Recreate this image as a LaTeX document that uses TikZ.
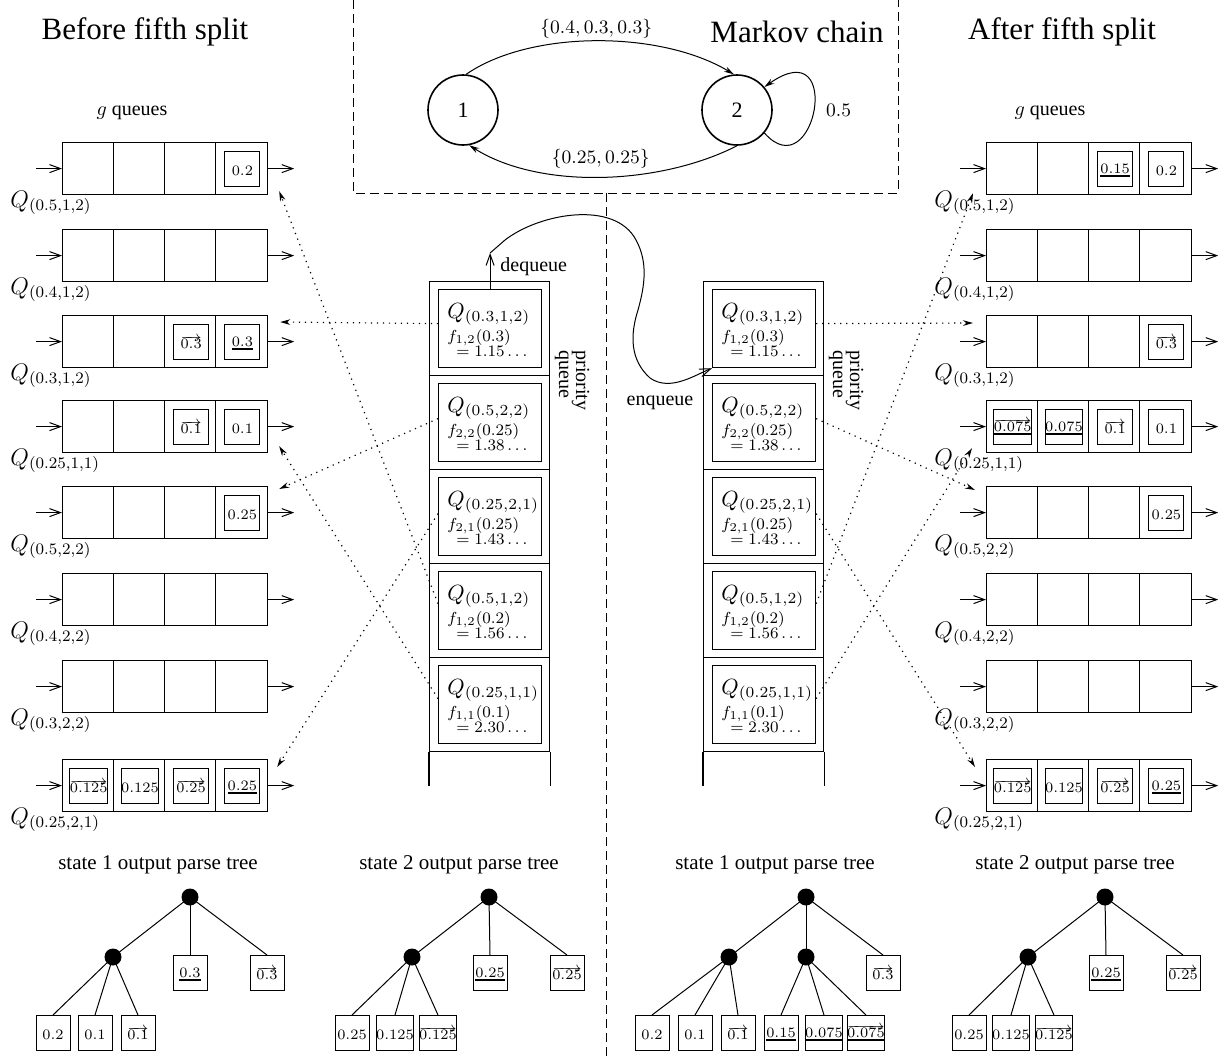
\RequirePackage{fix-cm}
\documentclass[tikz,border=0pt]{standalone}
\usepackage[no-math]{fontspec}
\setmainfont{Liberation Serif}
\usetikzlibrary{arrows.meta,calc}
\newcommand\thul[1]{\vtop{\hbox{$#1$}\kern0.6pt\hrule height 1.3pt}}
\newcommand\varr[1]{\overrightarrow{#1}}
\tikzset{
  qbox/.style={draw, line width=0.6pt, minimum width=102.5pt, minimum height=26pt, inner sep=0pt, anchor=north west},
  ibox/.style={draw, line width=0.5pt, minimum width=17.5pt, minimum height=17.5pt, inner sep=0pt, font=\fontsize{7.2}{9}\selectfont},
  leaf/.style={draw, line width=0.5pt, minimum width=17pt, minimum height=17.5pt, inner sep=0pt, font=\fontsize{7.2}{9}\selectfont},
  tdot/.style={circle, fill, minimum size=8.5pt, inner sep=0pt},
  pcell/.style={draw, line width=0.6pt, minimum width=60pt, minimum height=47pt, inner sep=0pt, anchor=north west},
  pbox/.style={draw, line width=0.6pt, minimum width=51.5pt, minimum height=39pt, inner sep=0pt, anchor=north west},
  pq/.style={inner sep=0pt, font=\fontsize{11}{13}\selectfont},
  pf/.style={inner sep=0pt, font=\fontsize{8}{10}\selectfont},
  qlab/.style={inner sep=0pt, font=\fontsize{12}{14}\selectfont},
  barb/.style={-{Straight Barb[length=5.5pt,width=4pt]}, line width=0.5pt},
  dotarr/.style={dash pattern=on 0.6pt off 2.4pt, line width=0.6pt, -{Stealth[length=5pt,width=2.8pt]}},
  mstate/.style={circle, draw, line width=0.8pt, minimum size=35pt, inner sep=0pt, font=\fontsize{11}{13}\selectfont},
  marr/.style={line width=0.5pt, -{Stealth[length=5pt,width=2.8pt]}},
  mlab/.style={inner sep=0pt, font=\fontsize{9.5}{11}\selectfont},
  mkdash/.style={dash pattern=on 4.5pt off 2.5pt, line width=0.5pt},
  ttl/.style={inner sep=0pt, font=\fontsize{15.5}{18}\selectfont},
  ttitle/.style={inner sep=0pt, font=\fontsize{10.5}{12}\selectfont},
  lbl/.style={inner sep=0pt, font=\fontsize{10}{12}\selectfont},
  edge/.style={line width=0.5pt}
}
\newcommand\qrow[4]{%
  \node[qbox] (#1) at (#2,#3) {};
  \foreach \k in {1,2,3}{\draw[line width=0.6pt] ($(#1.north west)+(\k*51.25,0)$) -- ($(#1.south west)+(\k*51.25,0)$);}
  \coordinate (#1i) at ($(#1.west)+(-26,0)$);
  \coordinate (#1o) at ($(#1.east)+(26,0)$);
  \draw[barb] (#1i) -- (#1.west);
  \draw[barb] (#1.east) -- (#1o);
  \node[qlab, anchor=base west] (#1lab) at ($(#1.south west)+(-52,12)$) {$Q_{(#4)}$};
}
\newcommand\qitem[3]{%
  \node[ibox] (#1c#2) at ($(#1.north west)+(#2*51.25-24.6,27)$) {$\vphantom{\varr{0}}#3$};
}
\newcommand\pqcell[7]{%
  \node[pcell] (#1o) at (#2,#3) {};
  \node[pbox] (#1) at ($(#1o.north west)+(9,8)$) {};
  \node[pq, anchor=base west] (#1q) at ($(#1.north west)+(9,29)$) {$Q_{(#4)}$};
  \node[pf, anchor=base west] (#1f) at ($(#1.north west)+(9,52)$) {$f_{#5}(#6)$};
  \node[pf, anchor=base west] (#1v) at ($(#1.north west)+(18,67)$) {$=#7\ldots$};
}
\begin{document}
\begin{tikzpicture}[x=0.5pt,y=-0.5pt]
\useasboundingbox[fill=white] (0,0) rectangle (1228,1057);

% titles
\node[ttl] (tb) at (145,32) {Before fifth split};
\node[ttl] (tm) at (797,32) {Markov chain};
\node[ttl] (ta) at (1062,32) {After fifth split};

% dashed frame
\draw[mkdash] (353,0) -- (353,193) -- (898,193) -- (898,0);
\draw[mkdash] (606,193) -- (606,1057);

% Markov chain
\node[mstate] (m1) at (463,110) {1};
\node[mstate] (m2) at (737,110) {2};
\draw[marr] (m1.85) .. controls (530,30) and (660,30) .. node[mlab, midway, above=1pt] (ml1) {$\{0.4,0.3,0.3\}$} (m2.95);
\draw[marr] (m2.-90) .. controls (660,185) and (540,190) .. node[mlab, midway, above=4pt] (ml2) {$\{0.25,0.25\}$} (m1.-80);
\draw[marr] (m2.-40) .. controls (815,190) and (845,30) .. node[mlab, midway, right=6pt] (ml3) {$0.5$} (m2.40);

% g queues labels
\node[lbl] (gl) at (132,113) {$g$ queues};
\node[lbl] (gr) at (1050,113) {$g$ queues};

% left queues
\qrow{L1}{62}{142}{0.5,1,2}
\qrow{L2}{62}{229}{0.4,1,2}
\qrow{L3}{62}{315}{0.3,1,2}
\qrow{L4}{62}{400}{0.25,1,1}
\qrow{L5}{62}{486}{0.5,2,2}
\qrow{L6}{62}{573}{0.4,2,2}
\qrow{L7}{62}{660}{0.3,2,2}
\qrow{L8}{62}{759}{0.25,2,1}
\qitem{L1}{4}{0.2}
\qitem{L3}{3}{\varr{0.3}}
\qitem{L3}{4}{\thul{0.3}}
\qitem{L4}{3}{\varr{0.1}}
\qitem{L4}{4}{0.1}
\qitem{L5}{4}{0.25}
\qitem{L8}{1}{\varr{0.125}}
\qitem{L8}{2}{0.125}
\qitem{L8}{3}{\varr{0.25}}
\qitem{L8}{4}{\thul{0.25}}

% right queues
\qrow{R1}{986}{142}{0.5,1,2}
\qrow{R2}{986}{229}{0.4,1,2}
\qrow{R3}{986}{315}{0.3,1,2}
\qrow{R4}{986}{400}{0.25,1,1}
\qrow{R5}{986}{486}{0.5,2,2}
\qrow{R6}{986}{573}{0.4,2,2}
\qrow{R7}{986}{660}{0.3,2,2}
\qrow{R8}{986}{759}{0.25,2,1}
\qitem{R1}{3}{\thul{0.15}}
\qitem{R1}{4}{0.2}
\qitem{R3}{4}{\varr{0.3}}
\qitem{R4}{1}{\thul{\varr{0.075}}}
\qitem{R4}{2}{\thul{0.075}}
\qitem{R4}{3}{\varr{0.1}}
\qitem{R4}{4}{0.1}
\qitem{R5}{4}{0.25}
\qitem{R8}{1}{\varr{0.125}}
\qitem{R8}{2}{0.125}
\qitem{R8}{3}{\varr{0.25}}
\qitem{R8}{4}{\thul{0.25}}

% left priority queue
\pqcell{PL1}{429}{281}{0.3,1,2}{1,2}{0.3}{1.15}
\pqcell{PL2}{429}{375}{0.5,2,2}{2,2}{0.25}{1.38}
\pqcell{PL3}{429}{469}{0.25,2,1}{2,1}{0.25}{1.43}
\pqcell{PL4}{429}{563}{0.5,1,2}{1,2}{0.2}{1.56}
\pqcell{PL5}{429}{657}{0.25,1,1}{1,1}{0.1}{2.30}
\draw[line width=0.6pt] (PL5o.south west) -- ++(0,34);
\draw[line width=0.6pt] (PL5o.south east) -- ++(0,34);

% right priority queue
\pqcell{PR1}{703}{281}{0.3,1,2}{1,2}{0.3}{1.15}
\pqcell{PR2}{703}{375}{0.5,2,2}{2,2}{0.25}{1.38}
\pqcell{PR3}{703}{469}{0.25,2,1}{2,1}{0.25}{1.43}
\pqcell{PR4}{703}{563}{0.5,1,2}{1,2}{0.2}{1.56}
\pqcell{PR5}{703}{657}{0.25,1,1}{1,1}{0.1}{2.30}
\draw[line width=0.6pt] (PR5o.south west) -- ++(0,34);
\draw[line width=0.6pt] (PR5o.south east) -- ++(0,34);

% priority queue labels
\node[lbl, rotate=-90, anchor=base west] (plp) at (576,350) {priority};
\node[lbl, rotate=-90, anchor=base west] (plq) at (559,350) {queue};
\node[lbl, rotate=-90, anchor=base west] (prp) at (850,350) {priority};
\node[lbl, rotate=-90, anchor=base west] (prq) at (833,350) {queue};

% dequeue / enqueue
\coordinate (deq) at (PL1.north |- 0,253);
\draw[barb] (PL1.north) -- (deq);
\node[lbl, anchor=west] (deql) at (500,267) {dequeue};
\draw[barb] (deq) -- (505,240) .. controls (540,213) and (615,200) .. (636,240)
  .. controls (648,262) and (645,285) .. (638,310)
  .. controls (630,335) and (630,360) .. (650,378)
  .. controls (670,392) and (695,375) .. (PR1.south west);
\node[lbl] (enql) at (660,403) {enqueue};

% dotted arrows left
\draw[dotarr] ($(PL1.west)+(0,-5)$) -- ($(L3.north east)+(12,7)$);
\draw[dotarr] ($(PL2.west)+(0,-4)$) -- ($(L5.north east)+(11,3)$);
\draw[dotarr] ($(PL3.west)+(0,-3)$) -- ($(L8.north east)+(9,8)$);
\draw[dotarr] ($(PL4.west)+(0,-7)$) -- ($(L1.south east)+(11,-4)$);
\draw[dotarr] ($(PL5.west)+(0,-6)$) -- ($(L4.south east)+(11,-7)$);

% dotted arrows right
\draw[dotarr] ($(PR1.east)+(0,-5)$) -- ($(R3.north west)+(-13,8)$);
\draw[dotarr] ($(PR2.east)+(0,-4)$) -- ($(R5.north west)+(-11,4)$);
\draw[dotarr] ($(PR3.east)+(0,-3)$) -- ($(R8.north west)+(-11,8)$);
\draw[dotarr] ($(PR4.east)+(0,-7)$) -- ($(R1.south west)+(-13,-2)$);
\draw[dotarr] ($(PR5.east)+(0,-6)$) -- ($(R4.south west)+(-14,-5)$);

% tree 1
\node[ttitle] (t1) at (158,865) {state 1 output parse tree};
\node[tdot] (t1r) at (190,897) {};
\node[tdot] (t1a) at (113,957) {};
\node[leaf] (t1b) at (190,973) {$\vphantom{\varr{0}}\thul{0.3}$};
\node[leaf] (t1c) at (267,973) {$\varr{0.3}$};
\node[leaf] (t1d) at (53,1033) {$\vphantom{\varr{0}}0.2$};
\node[leaf] (t1e) at (95,1033) {$\vphantom{\varr{0}}0.1$};
\node[leaf] (t1f) at (138,1033) {$\varr{0.1}$};
\draw[edge] (t1r.center) -- (t1a.center);
\draw[edge] (t1r.center) -- (t1b.north);
\draw[edge] (t1r.center) -- (t1c.north);
\draw[edge] (t1a.center) -- (t1d.north);
\draw[edge] (t1a.center) -- (t1e.north);
\draw[edge] (t1a.center) -- (t1f.north);

% tree 2
\node[ttitle] (t2) at (459,865) {state 2 output parse tree};
\node[tdot] (t2r) at (489,897) {};
\node[tdot] (t2a) at (412,957) {};
\node[leaf] (t2b) at (490,973) {$\vphantom{\varr{0}}\thul{0.25}$};
\node[leaf] (t2c) at (567,973) {$\varr{0.25}$};
\node[leaf] (t2d) at (352,1033) {$\vphantom{\varr{0}}0.25$};
\node[leaf] (t2e) at (395,1033) {$\vphantom{\varr{0}}0.125$};
\node[leaf] (t2f) at (438,1033) {$\varr{0.125}$};
\draw[edge] (t2r.center) -- (t2a.center);
\draw[edge] (t2r.center) -- (t2b.north);
\draw[edge] (t2r.center) -- (t2c.north);
\draw[edge] (t2a.center) -- (t2d.north);
\draw[edge] (t2a.center) -- (t2e.north);
\draw[edge] (t2a.center) -- (t2f.north);

% tree 3
\node[ttitle] (t3) at (775,865) {state 1 output parse tree};
\node[tdot] (t3r) at (806,897) {};
\node[tdot] (t3a) at (729,957) {};
\node[tdot] (t3b) at (806,957) {};
\node[leaf] (t3c) at (883,973) {$\varr{0.3}$};
\node[leaf] (t3d) at (652,1033) {$\vphantom{\varr{0}}0.2$};
\node[leaf] (t3e) at (695,1033) {$\vphantom{\varr{0}}0.1$};
\node[leaf] (t3f) at (738,1033) {$\varr{0.1}$};
\node[leaf] (t3g) at (781,1033) {$\vphantom{\varr{0}}\thul{0.15}$};
\node[leaf] (t3h) at (824,1033) {$\vphantom{\varr{0}}\thul{0.075}$};
\node[leaf] (t3i) at (866,1033) {$\thul{\varr{0.075}}$};
\draw[edge] (t3r.center) -- (t3a.center);
\draw[edge] (t3r.center) -- (t3b.center);
\draw[edge] (t3r.center) -- (t3c.north);
\draw[edge] (t3a.center) -- (t3d.north);
\draw[edge] (t3a.center) -- (t3e.north);
\draw[edge] (t3a.center) -- (t3f.north);
\draw[edge] (t3b.center) -- (t3g.north);
\draw[edge] (t3b.center) -- (t3h.north);
\draw[edge] (t3b.center) -- (t3i.north);

% tree 4
\node[ttitle] (t4) at (1075,865) {state 2 output parse tree};
\node[tdot] (t4r) at (1105,897) {};
\node[tdot] (t4a) at (1028,957) {};
\node[leaf] (t4b) at (1106,973) {$\vphantom{\varr{0}}\thul{0.25}$};
\node[leaf] (t4c) at (1183,973) {$\varr{0.25}$};
\node[leaf] (t4d) at (969,1033) {$\vphantom{\varr{0}}0.25$};
\node[leaf] (t4e) at (1011,1033) {$\vphantom{\varr{0}}0.125$};
\node[leaf] (t4f) at (1054,1033) {$\varr{0.125}$};
\draw[edge] (t4r.center) -- (t4a.center);
\draw[edge] (t4r.center) -- (t4b.north);
\draw[edge] (t4r.center) -- (t4c.north);
\draw[edge] (t4a.center) -- (t4d.north);
\draw[edge] (t4a.center) -- (t4e.north);
\draw[edge] (t4a.center) -- (t4f.north);
\end{tikzpicture}
\end{document}
